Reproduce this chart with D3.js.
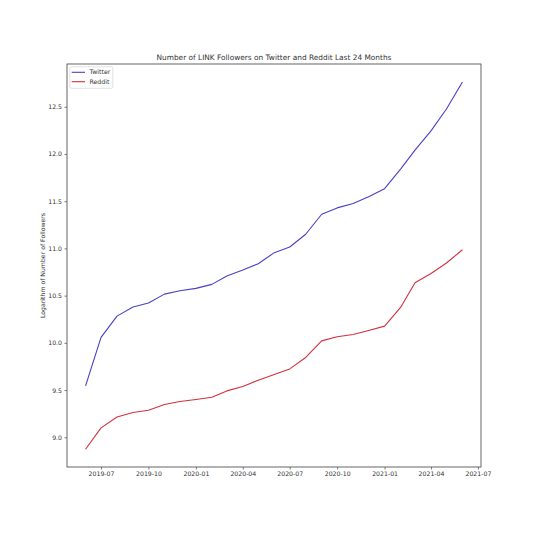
<!DOCTYPE html>
<html>
<head>
<meta charset="utf-8">
<script src="https://cdn.jsdelivr.net/npm/d3@7"></script>
<style>
  html, body { margin: 0; padding: 0; background: #fff; }
  svg { display: block; }
  text { font-family: "DejaVu Sans", sans-serif; fill: #333; }
</style>
</head>
<body>
<script>
// ---- data ----
const months = ["2019-06-01","2019-07-01","2019-08-01","2019-09-01","2019-10-01","2019-11-01","2019-12-01",
  "2020-01-01","2020-02-01","2020-03-01","2020-04-01","2020-05-01","2020-06-01","2020-07-01","2020-08-01",
  "2020-09-01","2020-10-01","2020-11-01","2020-12-01","2021-01-01","2021-02-01","2021-03-01","2021-04-01",
  "2021-05-01","2021-06-01"];
const twitter = [9.544, 10.057, 10.283, 10.379, 10.421, 10.516, 10.551, 10.577, 10.619, 10.707, 10.771, 10.838,
  10.955, 11.015, 11.150, 11.362, 11.429, 11.475, 11.548, 11.633, 11.840, 12.040, 12.245, 12.476, 12.762];
const reddit = [8.873, 9.099, 9.215, 9.262, 9.286, 9.347, 9.379, 9.400, 9.424, 9.491, 9.538, 9.604,
  9.665, 9.724, 9.845, 10.021, 10.064, 10.089, 10.131, 10.177, 10.375, 10.636, 10.735, 10.845, 10.986];
const seriesNames = ["Twitter", "Reddit"];
const seriesColors = ["#4a3fc8", "#d3303c"];
const yTicks = [9.0, 9.5, 10.0, 10.5, 11.0, 11.5, 12.0, 12.5];
const titleText = "Number of LINK Followers on Twitter and Reddit Last 24 Months";
const yLabelText = "Logarithm of Number of Followers";

// ---- layout ----
const W = 534, H = 534;
const L = 67, R = 481, T = 64, B = 467;

const svg = d3.select("body").append("svg").attr("width", W).attr("height", H);

const parse = d3.utcParse("%Y-%m-%d");
const dates = months.map(parse);

const x = d3.scaleUtc()
  .domain([Date.UTC(2019, 3, 26), Date.UTC(2021, 6, 7)])
  .range([L, R]);
const y = d3.scaleLinear().domain([8.685, 12.953]).range([B, T]);

// axes
const xAxis = d3.axisBottom(x)
  .ticks(d3.utcMonth.every(3))
  .tickFormat(d3.utcFormat("%Y-%m"))
  .tickSize(2.5).tickPadding(2);
const yAxis = d3.axisLeft(y).tickValues(yTicks).tickFormat(d3.format(".1f"))
  .tickSize(2.5).tickPadding(2.5);

const gx = svg.append("g").attr("transform", `translate(0,${B})`).call(xAxis);
const gy = svg.append("g").attr("transform", `translate(${L},0)`).call(yAxis);
[gx, gy].forEach(g => {
  g.select(".domain").remove();
  g.selectAll(".tick line").attr("stroke", "#444").attr("stroke-width", 0.7);
  g.selectAll(".tick text").attr("font-size", 6.2).attr("font-family", "DejaVu Sans").attr("fill", "#333");
});

// frame
svg.append("rect").attr("x", L).attr("y", T).attr("width", R - L).attr("height", B - T)
  .attr("fill", "none").attr("stroke", "#555").attr("stroke-width", 0.9);

// lines
const line = d3.line().x((d, i) => x(dates[i])).y(d => y(d));
[twitter, reddit].forEach((s, k) => {
  svg.append("path").datum(s).attr("d", line)
    .attr("fill", "none").attr("stroke", seriesColors[k]).attr("stroke-width", 1.1)
    .attr("stroke-linejoin", "round");
});

// title
svg.append("text").attr("x", (L + R) / 2).attr("y", T - 4.5)
  .attr("text-anchor", "middle").attr("font-size", 7.4).text(titleText);

// y label
svg.append("text").attr("transform", `translate(45,${(T + B) / 2}) rotate(-90)`)
  .attr("text-anchor", "middle").attr("font-size", 6.2).text(yLabelText);

// legend
const lg = svg.append("g");
lg.append("rect").attr("x", 69.8).attr("y", 66.8).attr("width", 43).attr("height", 21.5)
  .attr("rx", 1.5).attr("fill", "#fff").attr("stroke", "#d6d6d6").attr("stroke-width", 0.7);
seriesNames.forEach((n, k) => {
  const yy = 72.3 + k * 9.4;
  lg.append("line").attr("x1", 71.7).attr("x2", 85).attr("y1", yy).attr("y2", yy)
    .attr("stroke", seriesColors[k]).attr("stroke-width", 1.1);
  lg.append("text").attr("x", 89.5).attr("y", yy).attr("dy", "0.35em")
    .attr("font-size", 6.2).text(n);
});
</script>
</body>
</html>
